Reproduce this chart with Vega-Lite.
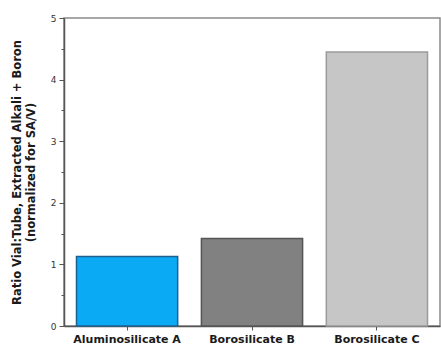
{
  "$schema": "https://vega.github.io/schema/vega-lite/v6.json",
  "width": 376,
  "height": 308,
  "autosize": {"type": "none"},
  "padding": {"left": 64, "top": 18, "right": 1, "bottom": 28},
  "background": "white",
  "config": {
    "view": {"stroke": "#8a8a8a", "strokeWidth": 1.5},
    "font": "DejaVu Sans"
  },
  "data": {
    "values": [
      {"glass": "Aluminosilicate A", "ratio": 1.13},
      {"glass": "Borosilicate B", "ratio": 1.42},
      {"glass": "Borosilicate C", "ratio": 4.45}
    ]
  },
  "mark": {"type": "bar", "strokeWidth": 1.5},
  "encoding": {
    "x": {
      "field": "glass",
      "type": "nominal",
      "sort": null,
      "scale": {"paddingInner": 0.19, "paddingOuter": 0.1},
      "axis": {
        "title": null,
        "labelAngle": 0,
        "labelFont": "DejaVu Sans",
        "labelFontWeight": "bold",
        "labelFontSize": 11,
        "labelColor": "#1a1a1a",
        "labelPadding": 3,
        "domainColor": "#555555",
        "domainWidth": 1.5,
        "tickColor": "#555555",
        "tickSize": 4,
        "tickWidth": 1
      }
    },
    "y": {
      "field": "ratio",
      "type": "quantitative",
      "scale": {"domain": [0, 5], "nice": false},
      "axis": {
        "title": ["Ratio Vial:Tube, Extracted Alkali + Boron", "(normalized for SA/V)"],
        "titleFont": "DejaVu Sans",
        "titleFontWeight": "bold",
        "titleFontSize": 11.5,
        "titleColor": "#1a1a1a",
        "titleLineHeight": 14,
        "titleX": -42,
        "titleY": 154,
        "titleAlign": "center",
        "titleBaseline": "bottom",
        "titleAngle": -90,
        "values": [0, 0.5, 1, 1.5, 2, 2.5, 3, 3.5, 4, 4.5, 5],
        "labelExpr": "datum.value % 1 === 0 ? format(datum.value, 'd') : ''",
        "labelFont": "DejaVu Sans",
        "labelFontSize": 9,
        "labelColor": "#333333",
        "labelPadding": 3,
        "grid": false,
        "domainColor": "#555555",
        "domainWidth": 1.5,
        "tickColor": "#555555",
        "tickSize": {"expr": "datum.value % 1 === 0 ? 5 : 3"},
        "tickWidth": 1
      }
    },
    "color": {
      "field": "glass",
      "type": "nominal",
      "scale": {"domain": ["Aluminosilicate A", "Borosilicate B", "Borosilicate C"], "range": ["#0aaaf5", "#818181", "#c6c6c6"]},
      "legend": null
    },
    "stroke": {
      "field": "glass",
      "type": "nominal",
      "scale": {"domain": ["Aluminosilicate A", "Borosilicate B", "Borosilicate C"], "range": ["#1f5f8f", "#555555", "#9a9a9a"]},
      "legend": null
    }
  }
}
